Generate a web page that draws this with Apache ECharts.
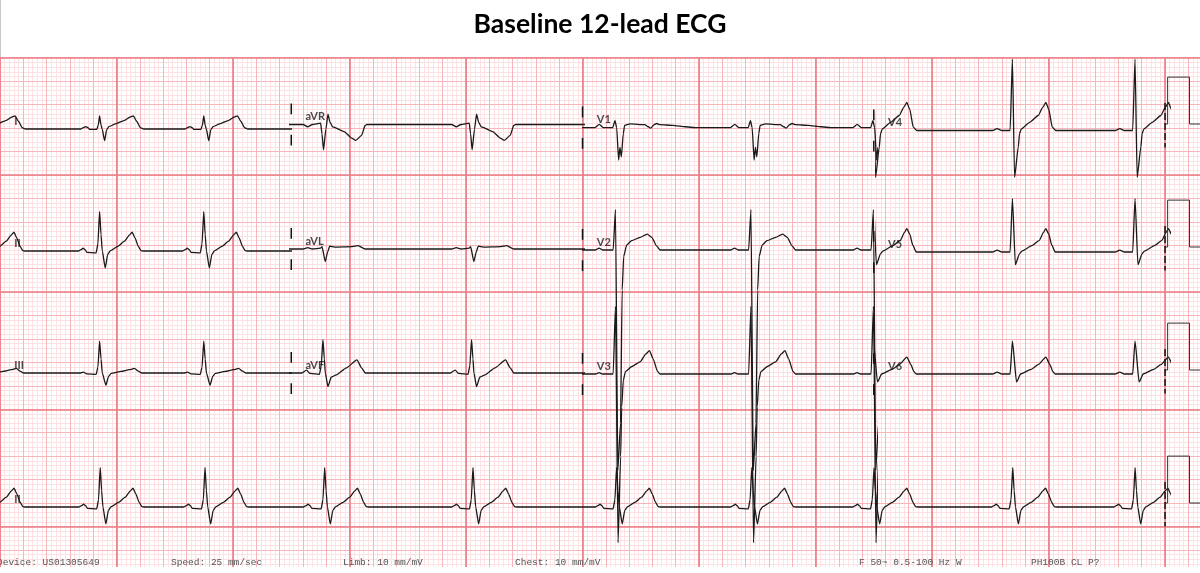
<!DOCTYPE html>
<html>
<head>
<meta charset="utf-8">
<title>Baseline 12-lead ECG</title>
<script src="https://cdn.jsdelivr.net/npm/echarts@6/dist/echarts.min.js"></script>
<style>
  html, body { margin: 0; padding: 0; background: #fff; }
  #chart { width: 1200px; height: 573px; }
</style>
</head>
<body>
<div id="chart"></div>
<script>
// R-peak times in seconds from the start of the strip
const beatTimes = [-0.16, 0.857, 1.753, 2.776, 4.044, 5.272, 6.428, 7.473, 8.659, 9.705];

// lead order: column by column, three rows each
const leadNames = ['I', 'II', 'III', 'aVR', 'aVL', 'aVF', 'V1', 'V2', 'V3', 'V4', 'V5', 'V6'];

// one beat per lead: [seconds from R peak, mV]
const tplI = [[-0.16, 0], [-0.14, 0.03], [-0.12, 0.05], [-0.10, 0.03], [-0.085, -0.01], [-0.025, -0.01], [-0.012, 0.08], [0, 0.28], [0.012, 0.08], [0.022, 0], [0.043, -0.25], [0.06, -0.02], [0.08, 0.05], [0.137, 0.11], [0.21, 0.18], [0.265, 0.26], [0.29, 0.28], [0.32, 0.16], [0.35, 0.03], [0.38, 0]];
const tplII = [[-0.18, 0], [-0.16, 0.03], [-0.142, 0.06], [-0.125, 0.03], [-0.11, -0.03], [-0.03, -0.04], [-0.015, 0.15], [0, 0.84], [0.012, 0.35], [0.023, 0], [0.048, -0.36], [0.07, -0.07], [0.094, 0.01], [0.157, 0.1], [0.214, 0.21], [0.256, 0.34], [0.28, 0.4], [0.304, 0.28], [0.333, 0.1], [0.355, 0.01], [0.378, 0]];
const tplIII = [[-0.17, 0], [-0.14, 0.02], [-0.11, -0.02], [-0.03, -0.03], [-0.015, 0.12], [0, 0.68], [0.012, 0.3], [0.023, 0], [0.054, -0.26], [0.077, -0.07], [0.1, -0.01], [0.185, 0.035], [0.256, 0.07], [0.3, 0.1], [0.333, 0.04], [0.36, 0]];
const tplAVR = [[-0.17, 0], [-0.13, -0.05], [-0.09, 0], [-0.02, 0.03], [-0.008, -0.2], [0.005, -0.54], [0.025, -0.1], [0.043, 0.22], [0.06, 0.05], [0.083, -0.05], [0.18, -0.15], [0.245, -0.29], [0.28, -0.34], [0.33, -0.23], [0.36, -0.02], [0.375, 0]];
const tplAVL = [[-0.17, 0], [-0.13, 0.03], [-0.09, 0], [-0.02, 0.02], [-0.008, 0.05], [0.02, -0.27], [0.04, -0.06], [0.058, 0.06], [0.1, 0.04], [0.25, 0.05], [0.3, 0.07], [0.36, 0]];
const tplAVF = [[-0.18, 0], [-0.14, 0.06], [-0.11, -0.01], [-0.03, -0.03], [-0.015, 0.15], [0, 0.71], [0.012, 0.3], [0.02, 0], [0.043, -0.29], [0.07, -0.09], [0.115, -0.04], [0.2, 0.11], [0.29, 0.28], [0.33, 0.11], [0.36, 0]];
const tplV1 = [[-0.175, 0], [-0.138, 0.07], [-0.104, 0], [-0.024, 0], [-0.004, 0.15], [0.01, 0], [0.027, -0.69], [0.038, -0.42], [0.05, -0.62], [0.067, -0.12], [0.078, 0.05], [0.124, 0.08], [0.25, 0.065], [0.28, 0.02], [0.3, -0.01], [0.33, 0.065], [0.351, 0.09], [0.38, 0.065], [0.49, 0.05], [0.6, 0.02], [0.68, 0]];
const tplV2 = [[-0.17, 0], [-0.14, 0.04], [-0.11, 0], [-0.02, 0], [0, 0.86], [0.02, -4.7], [0.043, -3.7], [0.057, -0.85], [0.07, -0.14], [0.096, 0.11], [0.138, 0.2], [0.21, 0.27], [0.27, 0.34], [0.31, 0.27], [0.35, 0.09], [0.38, 0]];
const tplV3 = [[-0.17, 0], [-0.14, 0.03], [-0.11, 0], [-0.02, 0], [0, 1.44], [0.022, -3.6], [0.044, -1.76], [0.053, -0.7], [0.067, -0.13], [0.085, 0.05], [0.14, 0.16], [0.21, 0.26], [0.26, 0.43], [0.29, 0.5], [0.32, 0.33], [0.36, 0.05], [0.38, 0]];
const tplV4 = [[-0.17, 0], [-0.13, 0.04], [-0.09, 0], [-0.02, 0], [0, 1.52], [0.018, -1.0], [0.05, -0.35], [0.06, -0.07], [0.075, 0.03], [0.15, 0.18], [0.22, 0.32], [0.26, 0.5], [0.285, 0.6], [0.31, 0.45], [0.34, 0.07], [0.37, 0]];
const tplV5 = [[-0.17, 0], [-0.13, 0.04], [-0.09, 0], [-0.02, 0], [0, 1.14], [0.025, -0.27], [0.06, -0.04], [0.08, 0.02], [0.17, 0.14], [0.23, 0.25], [0.265, 0.42], [0.285, 0.5], [0.31, 0.38], [0.335, 0.15], [0.365, 0]];
const tplV6 = [[-0.17, 0], [-0.13, 0.04], [-0.09, 0], [-0.02, 0], [0, 0.7], [0.035, -0.17], [0.07, 0], [0.16, 0.1], [0.22, 0.2], [0.285, 0.36], [0.32, 0.2], [0.345, 0.05], [0.365, 0]];

// 1 mV, 0.2 s calibration pulse: [seconds after the 10 s mark, mV]
const calPulse = [[0, 0], [0.022, 0], [0.022, 1], [0.21, 1], [0.21, 0], [0.35, 0]];

const footerTexts = ['Device: US01305649', 'Speed: 25 mm/sec', 'Limb: 10 mm/mV', 'Chest: 10 mm/mV', 'F 50~ 0.5-100 Hz W', 'PH100B CL P?'];

const templates = { I: tplI, II: tplII, III: tplIII, aVR: tplAVR, aVL: tplAVL, aVF: tplAVF, V1: tplV1, V2: tplV2, V3: tplV3, V4: tplV4, V5: tplV5, V6: tplV6 };

// ---- layout (pixels) ----
const PX_PER_S = 117.2;          // 25 mm/s
const PX_PER_MV = 46.88;         // 10 mm/mV
const PX_PER_MM = PX_PER_S / 25;
const PAPER_LEFT = -2.4;
const PAPER_TOP = 57.7;
const PAPER_H = 567 - PAPER_TOP;
const Y_MIN = -PAPER_H / PX_PER_MV;
const leadBasePx = { I: 129, II: 251, III: 373, aVR: 124.5, aVL: 249, aVF: 373, V1: 127.7, V2: 250, V3: 374, V4: 130.5, V5: 252, V6: 374 };
const rhythmBasePx = 507;
const pulseBasePx = [124, 247, 370, 503];
const footerX = [-3, 171, 343, 515, 859, 1031];

const mvAt = px => -(px - PAPER_TOP) / PX_PER_MV;

function gridFor(t0, t1) {
  return { left: PAPER_LEFT + t0 * PX_PER_S, top: PAPER_TOP, width: (t1 - t0) * PX_PER_S, height: PAPER_H };
}

function traceData(tpl, base, t0, t1) {
  const pts = [[t0 - 0.5, base]];
  beatTimes.forEach(bt => {
    if (bt + tpl[tpl.length - 1][0] < t0 - 0.5 || bt + tpl[0][0] > t1 + 0.5) return;
    tpl.forEach(p => pts.push([bt + p[0], base + p[1]]));
  });
  pts.push([t1 + 0.5, base]);
  return pts;
}

const grids = [gridFor(0, 10.3)];       // paper
const xAxes = [];
const yAxes = [];
const paperMmW = 257.5;
const paperMmH = PAPER_H / PX_PER_MM;
[[1, '#fde1e3', 1], [5, '#f6b6bb', 1], [25, '#eb7c85', 1.6]].forEach(([step, color, w], k) => {
  const common = { gridIndex: 0, type: 'value', interval: step, z: k,
    axisLine: { show: false }, axisTick: { show: false }, axisLabel: { show: false },
    splitLine: { show: true, showMaxLine: false, lineStyle: { color: color, width: w } } };
  xAxes.push(Object.assign({ min: 0, max: paperMmW }, common));
  yAxes.push(Object.assign({ min: 0, max: paperMmH, inverse: true }, common));
});

function addTraceGrid(t0, t1) {
  grids.push(gridFor(t0, t1));
  const gi = grids.length - 1;
  xAxes.push({ gridIndex: gi, type: 'value', min: t0, max: t1, show: false });
  yAxes.push({ gridIndex: gi, type: 'value', min: Y_MIN, max: 0, show: false });
  return xAxes.length - 1;
}

const traceStyle = { color: '#1a1a1a', width: 1.3 };
const series = [];

function traceSeries(name, ai, data) {
  return { name: name, type: 'line', xAxisIndex: ai, yAxisIndex: ai, symbol: 'none', z: 5,
    smooth: 0.18, smoothMonotone: 'x', lineStyle: traceStyle, clip: true, data: data };
}

// 4 columns of 2.5 s
for (let c = 0; c < 4; c++) {
  const ai = addTraceGrid(c * 2.5, c * 2.5 + 2.5);
  for (let r = 0; r < 3; r++) {
    const name = leadNames[c * 3 + r];
    series.push(traceSeries(name, ai, traceData(templates[name], mvAt(leadBasePx[name]), c * 2.5, c * 2.5 + 2.5)));
  }
}

// rhythm strip, lead II, full 10 s
const rAi = addTraceGrid(0, 10);
series.push(traceSeries('II rhythm', rAi, traceData(tplII, mvAt(rhythmBasePx), 0, 10)));

// overlay grid for markers, calibration and labels
const fAi = addTraceGrid(0, 10.3);

// column separators
const sepData = [];
for (let c = 1; c < 4; c++) {
  for (let r = 0; r < 3; r++) {
    const b = mvAt(leadBasePx[leadNames[c * 3 + r]]);
    const t = c * 2.5;
    sepData.push([t, b + 0.45], [t, b + 0.22], [t, null], [t, b - 0.22], [t, b - 0.45], [t, null]);
  }
}
series.push({ type: 'line', xAxisIndex: fAi, yAxisIndex: fAi, symbol: 'none', z: 6,
  lineStyle: { color: '#111', width: 1.5 }, data: sepData });

// end markers and calibration pulses
pulseBasePx.forEach(px => {
  const b = mvAt(px);
  series.push({ type: 'line', xAxisIndex: fAi, yAxisIndex: fAi, symbol: 'none', z: 6,
    lineStyle: { color: '#111', width: 1.5, type: [7, 3] }, data: [[10, b + 0.45], [10, b - 0.5]] });
  series.push({ type: 'line', xAxisIndex: fAi, yAxisIndex: fAi, symbol: 'none', z: 5,
    lineStyle: { color: '#333', width: 1 }, data: calPulse.map(p => [10 + p[0], b + p[1]]) });
});

// lead labels
const labelData = leadNames.map((name, i) => ({
  name: name, value: [Math.floor(i / 3) * 2.5 + 0.118, mvAt(leadBasePx[name]) + 0.17]
}));
labelData.push({ name: 'II', value: [0.118, mvAt(rhythmBasePx) + 0.17] });
series.push({ type: 'scatter', xAxisIndex: fAi, yAxisIndex: fAi, symbolSize: 1, z: 7,
  itemStyle: { color: 'transparent' }, silent: true,
  label: { show: true, position: 'right', distance: 0, formatter: '{b}',
    fontFamily: 'Lato', fontWeight: 'bold', fontSize: 11, color: '#1a1a1a' },
  data: labelData });

const graphics = [
  { type: 'line', shape: { x1: 0.5, y1: 0, x2: 0.5, y2: 57 }, style: { stroke: '#c8c8c8', lineWidth: 1 } }
];
footerTexts.forEach((t, i) => {
  graphics.push({ type: 'text', x: footerX[i], y: 562, z: 10,
    style: { text: t, fill: '#555', font: '9.5px "Liberation Mono"', verticalAlign: 'middle' } });
});

const chart = echarts.init(document.getElementById('chart'));
chart.setOption({
  animation: false,
  backgroundColor: '#fff',
  title: {
    text: 'Baseline 12-lead ECG', left: 'center', top: 6,
    textStyle: { fontFamily: 'Lato', fontWeight: 'bold', fontSize: 26.5, color: '#000' }
  },
  grid: grids,
  xAxis: xAxes,
  yAxis: yAxes,
  series: series,
  graphic: graphics
});
</script>
</body>
</html>
